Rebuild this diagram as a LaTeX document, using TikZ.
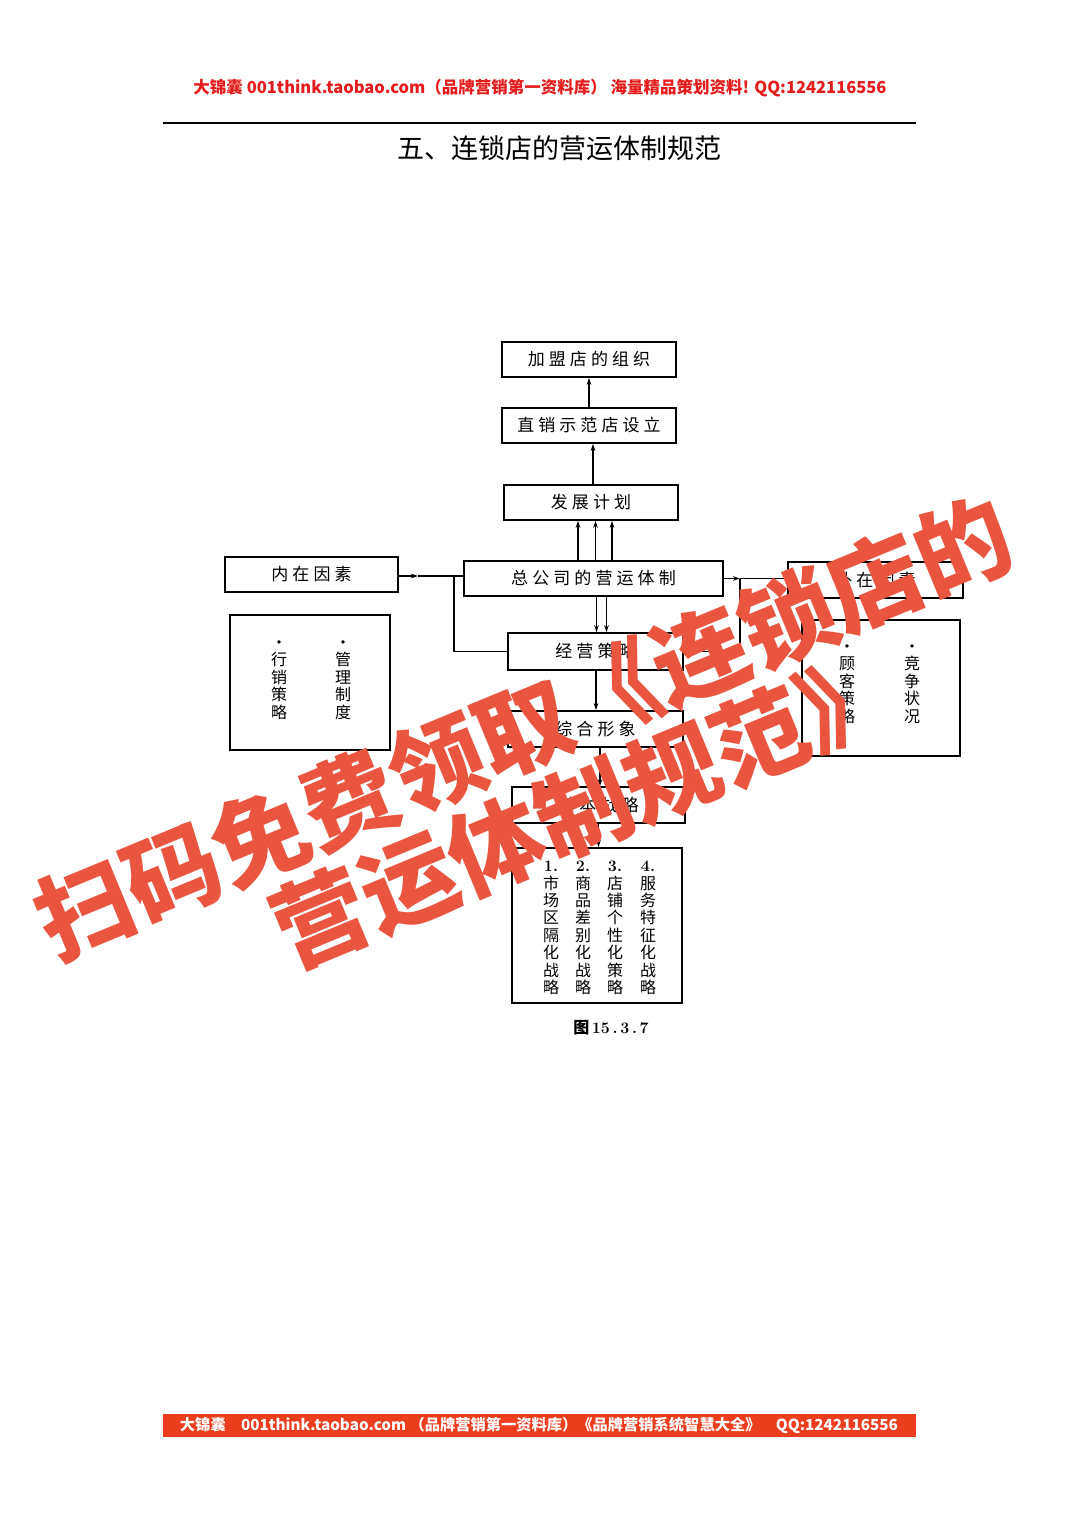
\documentclass[tikz,border=0pt]{standalone}
\usepackage{fontspec}
\usepackage{graphicx}
\newfontfamily\cjk{Noto Sans CJK SC}
\newfontfamily\cjkls{Noto Sans CJK SC}[LetterSpace=24]
\usetikzlibrary{arrows.meta}
\definecolor{wmred}{RGB}{233,85,63}
\definecolor{hdred}{RGB}{228,28,28}
\definecolor{ftred}{RGB}{236,62,30}
\begin{document}
\begin{tikzpicture}[x=1pt,y=-1pt,
  box/.style={draw,line width=1.5pt,inner sep=0pt,font=\cjkls\fontsize{17}{17}\selectfont},
  con/.style={line width=1.1pt},
  arr/.style={con,-{Stealth[length=7pt,width=4.5pt]}},
  vcol/.style={align=center,inner sep=0pt,font=\cjk\fontsize{16}{17.4}\selectfont},
  wm/.style={text=wmred,font=\cjk\bfseries\fontsize{95}{95}\selectfont,rotate=22.5,inner sep=0pt}]
\useasboundingbox (0,0) rectangle (1080,1527);
\fill[white] (0,0) rectangle (1080,1527);

% header
\node (hdr) at (540,88) {\resizebox{693pt}{!}{\cjk\bfseries\color{hdred}大锦囊 001think.taobao.com（品牌营销第一资料库） 海量精品策划资料! QQ:1242116556}};
\coordinate (r1) at (163,123);
\coordinate (r2) at (916,123);
\draw[line width=1.2pt] (r1) -- (r2);
\node[font=\cjk\fontsize{27}{27}\selectfont] (title) at (559,148) {五、连锁店的营运体制规范};

% boxes
\node[box,minimum width=174pt,minimum height=35pt] (jm) at (589,359.5) {加盟店的组织};
\node[box,minimum width=174pt,minimum height=35pt] (zx) at (589,425.5) {直销示范店设立};
\node[box,minimum width=174pt,minimum height=35pt] (fz) at (591,502.5) {发展计划};
\node[box,minimum width=259pt,minimum height=35pt] (zg) at (593.5,578.5) {总公司的营运体制};
\node[box,minimum width=173pt,minimum height=35pt] (nz) at (311.5,574.5) {内在因素};
\node[box,minimum width=175pt,minimum height=36pt] (wz) at (875.5,580) {外在因素};
\node[box,minimum width=175pt,minimum height=37pt] (jy) at (595.5,651.5) {经营策略};
\node[box,minimum width=175pt,minimum height=36pt] (zh) at (595.5,729) {综合形象};
\node[box,minimum width=173pt,minimum height=36pt] (jb) at (598.5,805) {基本战略};
\node[box,minimum width=170pt,minimum height=155pt] (lb) at (597,925.5) {};
\node[box,minimum width=160pt,minimum height=135pt] (lx) at (310,682.5) {};
\node[box,minimum width=158pt,minimum height=136pt] (rx) at (881,688) {};

% vertical texts
\node[vcol] (lx1) at (279,680) {·\\行\\销\\策\\略};
\node[vcol] (lx2) at (343,680) {·\\管\\理\\制\\度};
\node[vcol] (rx1) at (847,684) {·\\顾\\客\\策\\略};
\node[vcol] (rx2) at (912,684) {·\\竞\\争\\状\\况};
\node[vcol] (lb1) at (551,928) {{\normalfont\bfseries 1.}\\市\\场\\区\\隔\\化\\战\\略};
\node[vcol] (lb2) at (583,928) {{\normalfont\bfseries 2.}\\商\\品\\差\\别\\化\\战\\略};
\node[vcol] (lb3) at (615,928) {{\normalfont\bfseries 3.}\\店\\铺\\个\\性\\化\\策\\略};
\node[vcol] (lb4) at (648,928) {{\normalfont\bfseries 4.}\\服\\务\\特\\征\\化\\战\\略};

% connectors
\draw[arr] (zx.north) -- (jm.south);
\draw[arr] ([xshift=2pt]fz.north) -- ([xshift=2pt]fz.north |- zx.south);
\foreach \dx in {-15.5,2,18.5}
  \draw[arr] ([xshift=\dx pt]zg.north) -- ([xshift=\dx pt]zg.north |- fz.south);
\foreach \dx in {3,13}
  \draw[arr] ([xshift=\dx pt]zg.south) -- ([xshift=\dx pt]zg.south |- jy.north);
\draw[arr] ([xshift=0.5pt]jy.south) -- ([xshift=0.5pt]jy.south |- zh.north);
\draw[arr] ([xshift=4.5pt]zh.south) -- ([xshift=4.5pt]zh.south |- jb.north);
\draw[arr] (jb.south) -- (jb.south |- lb.north);

\coordinate (lt) at (418,576);
\coordinate (lbus) at (454,576);
\coordinate (rbus) at (740,578.5);
\draw[arr] (nz.east |- lt) -- (lt);
\draw[con] (lt) -- (zg.west |- lt);
\draw[con] (lbus) |- (jy.west);
\draw[arr] (zg.east) -- (rbus);
\draw[con] (rbus) -- (wz.west |- rbus);
\draw[con] (rbus) |- (jy.east);

% caption
\node[font=\cjk\bfseries\fontsize{16}{16}\selectfont] (cap) at (611,1028) {图\,{\normalfont\bfseries 15\,.\,3\,.\,7}};

% footer
\node[fill=ftred,minimum width=753pt,minimum height=23pt,inner sep=0pt] (ftr) at (539.5,1425.5) {};
\node (ftxt) at (539,1425.5) {\resizebox{718pt}{!}{\cjk\bfseries\color{white}大锦囊\quad 001think.taobao.com （品牌营销第一资料库）《品牌营销系统智慧大全》\quad QQ:1242116556}};

% watermark
\node[wm] (wm1) at (524,728) {扫码免费领取《连锁店的};
\node[wm] (wm2) at (584,810) {营运体制规范》};
\end{tikzpicture}
\end{document}
